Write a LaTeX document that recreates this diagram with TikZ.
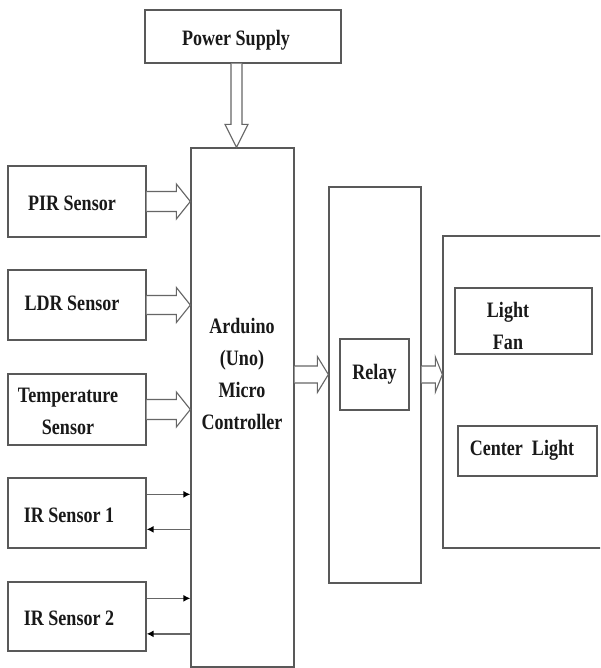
\documentclass[tikz,border=0pt]{standalone}
\usepackage{fontspec}
\setmainfont{Liberation Serif}[FakeStretch=0.82]
\usetikzlibrary{calc,arrows.meta}
\tikzset{
  box/.style={draw=black!65, line width=1.3pt, rectangle, inner sep=0pt, align=center,
    font=\bfseries\fontsize{22}{32}\selectfont, text=black!90},
  lbl/.style={inner sep=0pt, align=center, font=\bfseries\fontsize{22}{32}\selectfont, text=black!90},
  hol/.style={draw=black!60, line width=1.1pt, fill=white, line join=miter},
  irline/.style={draw=black!60, line width=1.4pt, -{Latex[length=7pt,width=7pt,black]}}
}
\newcommand\hollowR[5]{\draw[hol] ($(#1)+(0,-#3)$) -- ($(#2)+(-#5,-#3)$) -- ($(#2)+(-#5,-#4)$) -- (#2) -- ($(#2)+(-#5,#4)$) -- ($(#2)+(-#5,#3)$) -- ($(#1)+(0,#3)$);}
\begin{document}
\begin{tikzpicture}[x=1pt,y=-1pt]
\useasboundingbox (0,0) rectangle (600,668);
\clip (0,0) rectangle (600,668);
\fill[white] (0,0) rectangle (600,668);

% boxes
\node[box, minimum width=196pt, minimum height=53pt] (ps) at (243,36.5) {};
\node[lbl] (pstxt) at (236,40) {Power Supply};
\node[box, minimum width=138pt, minimum height=71pt] (pir) at (77,201.5) {};
\node[lbl] (pirtxt) at (72,203) {PIR Sensor};
\node[box, minimum width=138pt, minimum height=70pt] (ldr) at (77,305) {};
\node[lbl] (ldrtxt) at (72,303) {LDR Sensor};
\node[box, minimum width=138pt, minimum height=71pt] (temp) at (77,409.5) {};
\node[lbl] (temptxt) at (68,411) {Temperature\\Sensor};
\node[box, minimum width=138pt, minimum height=70pt] (ir1) at (77,513) {};
\node[lbl] (ir1txt) at (69,515) {IR Sensor 1};
\node[box, minimum width=138pt, minimum height=69pt] (ir2) at (77,616.5) {};
\node[lbl] (ir2txt) at (69,618) {IR Sensor 2};
\node[box, minimum width=103pt, minimum height=519pt] (ard) at (242.5,407.5) {};
\node[lbl] (ardtxt) at (242,374) {Arduino\\(Uno)\\Micro\\Controller};
\node[box, minimum width=92pt, minimum height=396pt] (relayo) at (375,385) {};
\node[box, minimum width=69pt, minimum height=71pt] (relay) at (374.5,374.5) {Relay};
\node[box, minimum width=177pt, minimum height=312pt] (out) at (531.5,392) {};
\node[box, minimum width=137pt, minimum height=66pt] (lf) at (523.5,321) {};
\node[lbl] (lftxt) at (508,326) {Light\\Fan};
\node[box, minimum width=139pt, minimum height=50pt] (cl) at (527.5,451) {};
\node[lbl] (cltxt) at (522,450) {Center\ \ Light};

% power arrow
\coordinate (pa) at ($(ps.south)+(-6.5,0)$);
\coordinate (pb) at (pa |- ard.north);
\draw[hol] ($(pa)+(-5.5,0)$) -- ($(pb)+(-5.5,-23)$) -- ($(pb)+(-11.5,-23)$) -- (pb)
  -- ($(pb)+(11.5,-23)$) -- ($(pb)+(5.5,-23)$) -- ($(pa)+(5.5,0)$);

% sensor arrows
\coordinate (t1) at (ard.west |- pir.east);
\hollowR{pir.east}{t1}{10}{17.5}{14}
\coordinate (t2) at (ard.west |- ldr.east);
\hollowR{ldr.east}{t2}{9.5}{17.5}{14}
\coordinate (t3) at (ard.west |- temp.east);
\hollowR{temp.east}{t3}{10}{17.5}{14}

% arduino -> relay -> outputs
\coordinate (a1) at (ard.east |- relay.west);
\coordinate (a2) at (relayo.west |- relay.west);
\hollowR{a1}{a2}{8.5}{18}{11}
\coordinate (a3) at (relayo.east |- relay.east);
\coordinate (a4) at (out.west |- relay.east);
\hollowR{a3}{a4}{8.5}{17.5}{7}

% IR arrows
\coordinate (i1a) at ($(ir1.north east)+(0,17)$);
\coordinate (i1b) at ($(ir1.north east)+(0,52)$);
\draw[irline] (i1a) -- (i1a -| ard.west);
\draw[irline] (i1b -| ard.west) -- (i1b);
\coordinate (i2a) at ($(ir2.north east)+(0,17)$);
\coordinate (i2b) at ($(ir2.north east)+(0,52.5)$);
\draw[irline] (i2a) -- (i2a -| ard.west);
\draw[irline] (i2b -| ard.west) -- (i2b);
\end{tikzpicture}
\end{document}
